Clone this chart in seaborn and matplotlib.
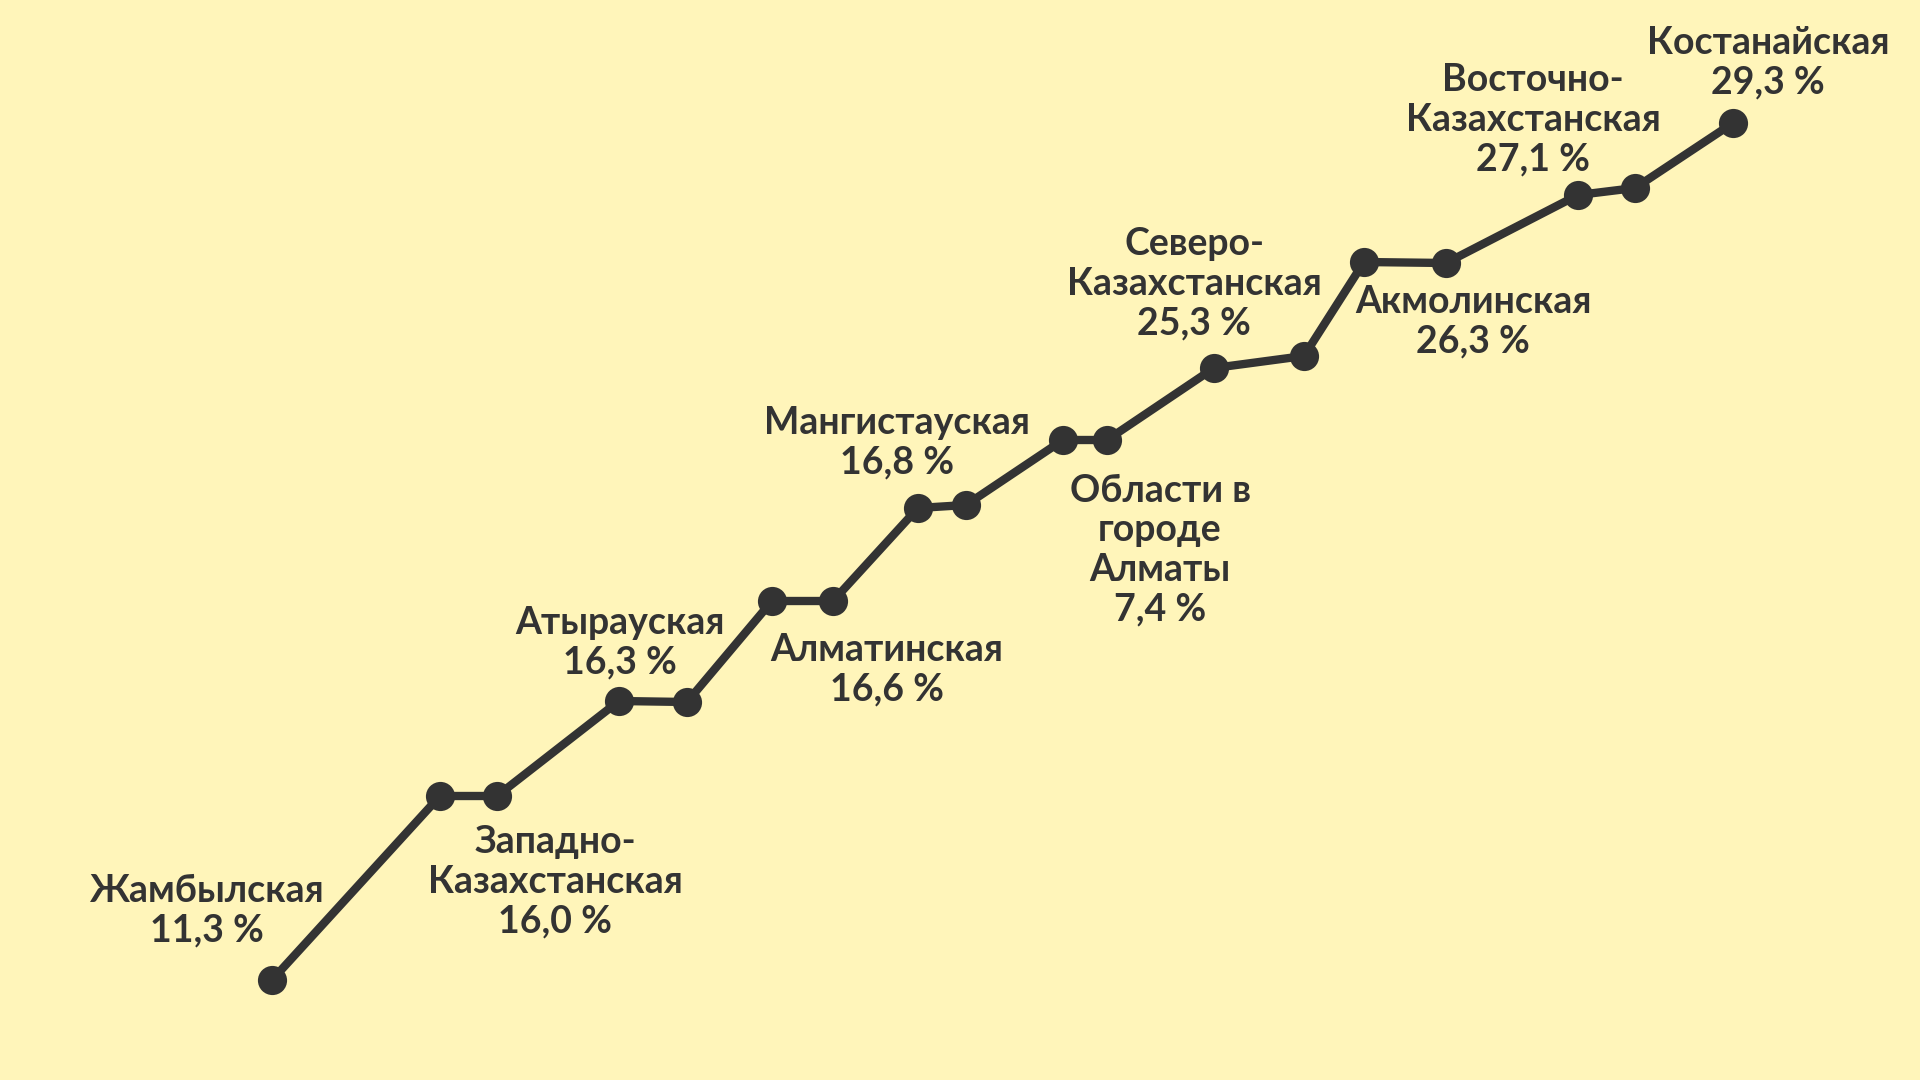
import matplotlib
matplotlib.use('Agg')
import matplotlib.pyplot as plt
import seaborn as sns
import pandas as pd

# Path of the "staircase" (canvas units, y up).
path_x = [272, 440, 497, 619, 687, 772, 833, 918, 966, 1063, 1107, 1214, 1304, 1364, 1446, 1578, 1635, 1733]
path_y = [100, 284, 284, 379, 378, 479, 479, 572, 575, 640, 640, 712, 724, 818, 817, 885, 892, 957]

# Region labels and their shares.
regions = ['Жамбылская', 'Западно-\nКазахстанская', 'Атырауская', 'Алматинская', 'Мангистауская',
           'Области в\nгороде\nАлматы', 'Северо-\nКазахстанская', 'Акмолинская',
           'Восточно-\nКазахстанская', 'Костанайская']
shares = ['11,3', '16,0', '16,3', '16,6', '16,8', '7,4', '25,3', '26,3', '27,1', '29,3']

# Where each label block sits (centre of block).
label_x = [207, 555, 620, 887, 897, 1160, 1194, 1473, 1533, 1768]
label_y = [169, 198, 437, 410, 637, 530, 796, 758, 960, 1017]

bg = '#FFF5BA'
ink = '#333333'

sns.set_theme(style='white')
plt.rcParams['font.family'] = ['Lato', 'DejaVu Sans']

df = pd.DataFrame({'x': path_x, 'y': path_y})

fig = plt.figure(figsize=(19.2, 10.8), dpi=100, facecolor=bg)
ax = fig.add_axes([0, 0, 1, 1])
ax.set_facecolor(bg)

sns.lineplot(df, x='x', y='y', sort=False, color=ink, linewidth=6,
             marker='o', markersize=21, markeredgewidth=0, markerfacecolor=ink, ax=ax)

for name, val, lx, ly in zip(regions, shares, label_x, label_y):
    ax.text(lx, ly, name + '\n' + val + ' %', ha='center', va='center', multialignment='center',
            fontsize=27, fontweight='bold', color=ink, linespacing=1.2)

ax.set_xlim(0, 1920)
ax.set_ylim(0, 1080)
ax.axis('off')

fig.savefig('out.png', dpi=100, facecolor=bg)
